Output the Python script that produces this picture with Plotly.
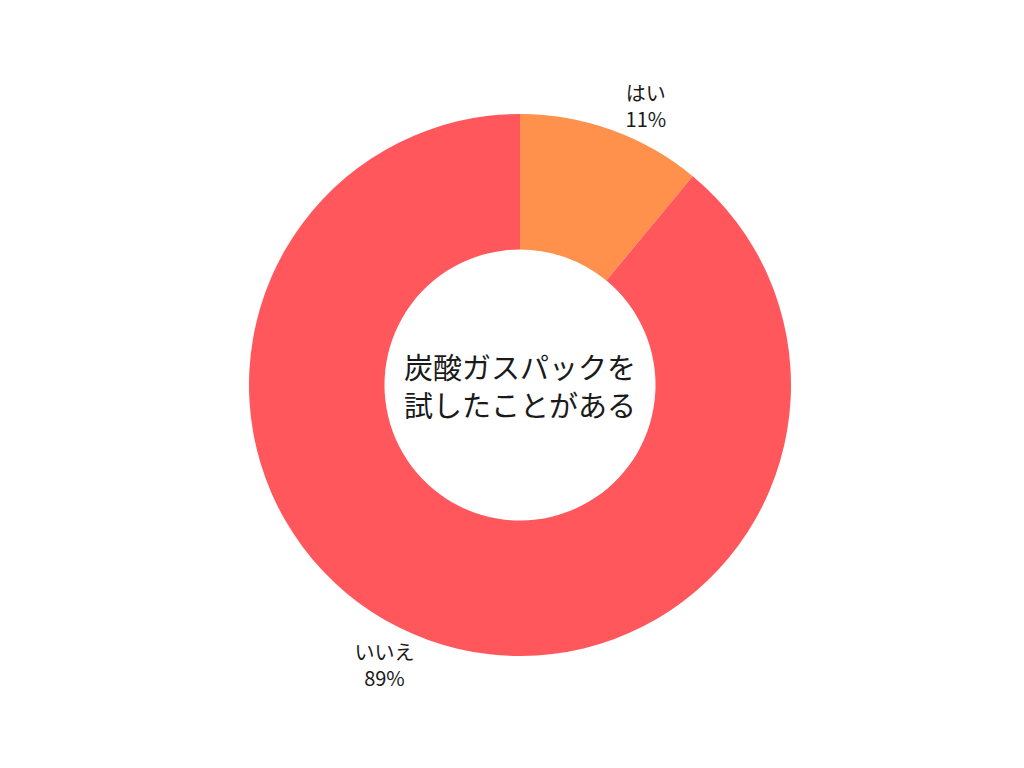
import plotly.graph_objects as go

# survey answers
labels = ["はい", "いいえ"]
values = [11, 89]
colors = ["#FF914D", "#FF575C"]
center_title = "炭酸ガスパックを<br>試したことがある"

fig = go.Figure()
fig.add_trace(go.Pie(
    labels=labels,
    values=values,
    hole=0.5,
    sort=False,
    direction="clockwise",
    rotation=0,
    marker=dict(colors=colors, line=dict(width=0)),
    textposition="outside",
    texttemplate="%{label}<br>%{value}%",
    textfont=dict(size=20, color="#1a1a1a"),
    showlegend=False,
))

# question text in the hole
fig.add_annotation(
    text=center_title, x=0.5, y=0.5, xref="paper", yref="paper",
    showarrow=False, font=dict(size=29, color="#1a1a1a"),
)

fig.update_layout(
    width=1024, height=768,
    margin=dict(l=0, r=0, t=106, b=120),
    paper_bgcolor="white",
    font=dict(family="Noto Sans CJK JP"),
)

fig.write_html("out.html")
